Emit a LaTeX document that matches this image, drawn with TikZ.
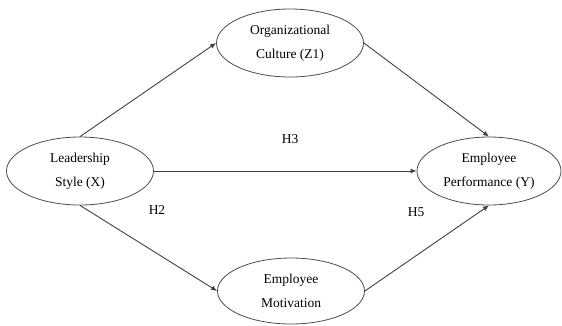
\documentclass[tikz,border=0pt]{standalone}
\usepackage{fontspec}
\setmainfont{Liberation Serif}
\usepackage{tikz}
\usetikzlibrary{shapes.geometric,arrows.meta}

\begin{document}
\begin{tikzpicture}[x=1pt, y=-1pt,
    construct/.style={ellipse, draw=black!70, line width=0.8pt, inner sep=0pt,
      minimum width=147pt, minimum height=68pt, align=center,
      font=\fontsize{13.5}{24}\selectfont},
    path/.style={draw=black!75, line width=0.9pt, -{Latex[length=6pt, width=5pt]}},
    hyp/.style={font=\fontsize{13.5}{16}\selectfont}]
    \useasboundingbox (0, 0) rectangle (562, 325);

    % latent variables
    \node[construct] (lead) at (80, 171) {Leadership\\Style (X)};
    \node[construct] (cult) at (290, 43) {Organizational\\Culture (Z1)};
    \node[construct, minimum height=66pt] (motiv) at (291, 291) {Employee\\Motivation};
    \node[construct, minimum width=144pt] (perf) at (489, 171) {Employee\\Performance (Y)};

    % paths
    \draw[path] (lead.north) -- (cult.west);
    \draw[path] (lead.south) -- (motiv.west);
    \draw[path] (lead.east) -- (perf.west);
    \draw[path] (cult.east) -- (perf.north);
    \draw[path] (motiv.east) -- (perf.south);

    % hypotheses
    \node[hyp] (h3) at (290, 139) {H3};
    \node[hyp] (h2) at (157, 210) {H2};
    \node[hyp] (h5) at (416, 212) {H5};
  \end{tikzpicture}
\end{document}
